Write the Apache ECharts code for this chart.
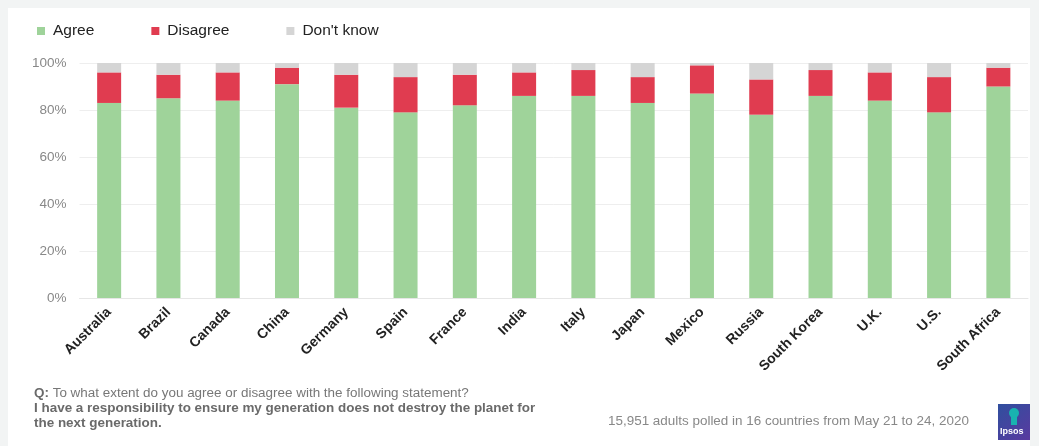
<!DOCTYPE html>
<html>
<head>
<meta charset="utf-8">
<script src="https://cdn.jsdelivr.net/npm/echarts@6/dist/echarts.min.js"></script>
<style>
html,body{margin:0;padding:0;background:#f2f4f4;}
#main{width:1039px;height:446px;}
</style>
</head>
<body>
<div id="main"></div>
<script>
var countries = ['Australia','Brazil','Canada','China','Germany','Spain','France','India','Italy','Japan','Mexico','Russia','South Korea','U.K.','U.S.','South Africa'];
var agree    = [83,85,84,91,81,79,82,86,86,83,87,78,86,84,79,90];
var disagree = [13,10,12,7,14,15,13,10,11,11,12,15,11,12,15,8];
var dontKnow = [4,5,4,2,5,6,5,4,3,6,1,7,3,4,6,2];
var yTicks = [0,20,40,60,80,100];

var colorList = ['#9fd39a','#e03c50','#d5d5d5'];

var chart = echarts.init(document.getElementById('main'));

function makeSeries(name, data, k) {
    return {
        name: name,
        type: 'bar',
        stack: 'total',
        barWidth: 24,
        data: data,
        itemStyle: {color: colorList[k]},
        emphasis: {disabled: true}
    };
}

var option = {
    backgroundColor: '#f2f4f4',
    animation: false,
    legend: {
        left: 32,
        top: 18,
        itemWidth: 8,
        itemHeight: 8,
        itemGap: 57,
        icon: 'rect',
        textStyle: {fontSize: 15.5, color: '#222', fontFamily: 'Liberation Sans', padding: [0,0,0,3]},
        data: ['Agree','Disagree',"Don't know"]
    },
    grid: {left: 79.5, right: 11, top: 63, bottom: 148},
    xAxis: {
        type: 'category',
        data: countries,
        axisLine: {show: true, lineStyle: {color: '#e6e6e6'}},
        axisTick: {show: false},
        axisLabel: {
            rotate: 45,
            interval: 0,
            margin: 12,
            fontSize: 14,
            fontWeight: 'bold',
            color: '#222',
            fontFamily: 'Liberation Sans'
        }
    },
    yAxis: {
        type: 'value',
        min: 0,
        max: 100,
        interval: 20,
        axisLine: {show: false},
        axisTick: {show: false},
        splitLine: {lineStyle: {color: '#eeeeee'}},
        axisLabel: {
            margin: 13,
            fontSize: 13.5,
            color: '#888',
            fontFamily: 'Liberation Sans',
            formatter: function (v) {
                return yTicks.indexOf(v) >= 0 ? v + '%' : '';
            }
        }
    },
    graphic: [
        {type: 'rect', z: -10, silent: true, shape: {x: 8, y: 8, width: 1022, height: 438}, style: {fill: '#ffffff'}},
        {type: 'text', x: 34, y: 386, scaleX: 1.12, style: {
            text: '{b|Q:} To what extent do you agree or disagree with the following statement?\n{b|I have a responsibility to ensure my generation does not destroy the planet for}\n{b|the next generation.}',
            fill: '#777', font: '12px "Liberation Sans"', lineHeight: 15,
            rich: {b: {fontWeight: 'bold', fill: '#6a6a6a', fontSize: 12, fontFamily: 'Liberation Sans'}}
        }},
        {type: 'text', x: 608, y: 416, scaleX: 1.12, style: {
            text: '15,951 adults polled in 16 countries from May 21 to 24, 2020',
            fill: '#888', font: '12px "Liberation Sans"'
        }},
        {type: 'rect', shape: {x: 998, y: 404, width: 32, height: 36}, style: {
            fill: new echarts.graphic.LinearGradient(0, 0, 1, 1, [
                {offset: 0, color: '#2f4f9e'}, {offset: 1, color: '#5a3aa0'}
            ])
        }},
        {type: 'circle', shape: {cx: 1014, cy: 413, r: 5}, style: {fill: '#19b3b0'}},
        {type: 'rect', shape: {x: 1011, y: 416, width: 6, height: 9}, style: {fill: '#19b3b0'}},
        {type: 'text', x: 1000, y: 427, style: {text: 'Ipsos', fill: '#ffffff', font: 'bold 9px "Liberation Sans"'}}
    ],
    series: [
        makeSeries('Agree', agree, 0),
        makeSeries('Disagree', disagree, 1),
        makeSeries("Don't know", dontKnow, 2)
    ]
};

chart.setOption(option);
window.onresize = chart.resize;
</script>
</body>
</html>
